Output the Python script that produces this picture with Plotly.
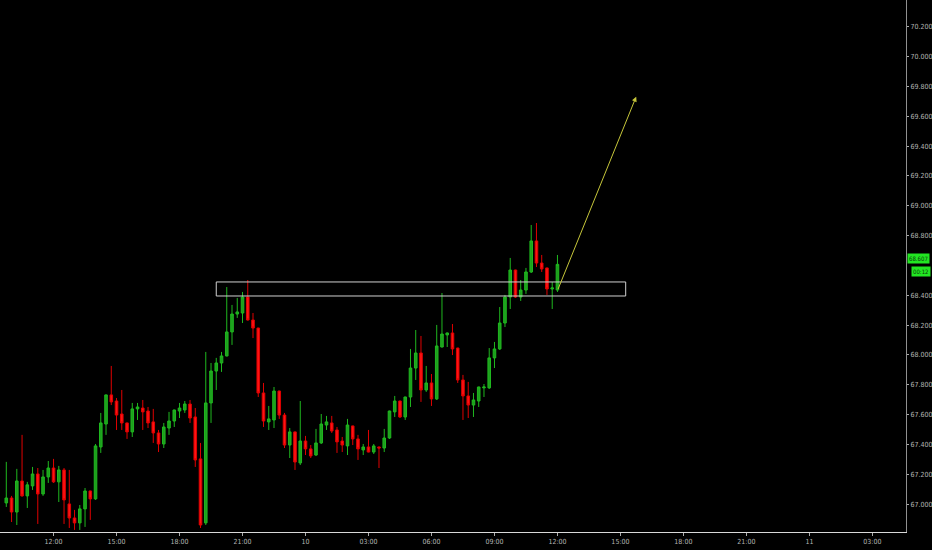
import pandas as pd
import plotly.graph_objects as go

# 15 minute candles, day 9 09:45 -> day 10 12:00
start_time = "2019-07-09 09:45"

opens = [67.008, 67.041, 66.947, 67.155, 67.055, 67.122, 67.202, 67.068, 67.182, 67.242,
         67.149, 67.229, 67.001, 66.907, 66.874, 66.968, 67.088, 67.035, 67.383, 67.537,
         67.732, 67.691, 67.604, 67.544, 67.484, 67.638, 67.644, 67.624, 67.551, 67.477,
         67.403, 67.510, 67.557, 67.624, 67.631, 67.671, 67.584, 67.303, 66.874, 67.678,
         67.892, 67.946, 67.993, 68.154, 68.274, 68.281, 68.388, 68.234, 68.180, 67.745,
         67.551, 67.564, 67.758, 67.597, 67.396, 67.484, 67.276, 67.423, 67.370, 67.329,
         67.410, 67.530, 67.544, 67.497, 67.423, 67.390, 67.524, 67.437, 67.363, 67.383,
         67.349, 67.383, 67.376, 67.443, 67.618, 67.691, 67.584, 67.718, 67.912, 68.013,
         67.765, 67.812, 67.705, 68.053, 68.134, 68.147, 68.046, 67.832, 67.725, 67.664,
         67.691, 67.779, 67.779, 67.980, 68.040, 68.214, 68.388, 68.569, 68.388, 68.435,
         68.556, 68.764, 68.616, 68.583, 68.442, 68.435]

highs = [67.283, 67.055, 67.236, 67.464, 67.149, 67.249, 67.242, 67.229, 67.289, 67.303,
         67.256, 67.242, 67.229, 66.961, 66.994, 67.108, 67.090, 67.403, 67.611, 67.734,
         67.926, 67.711, 67.765, 67.546, 67.678, 67.678, 67.698, 67.651, 67.638, 67.497,
         67.544, 67.618, 67.633, 67.678, 67.691, 67.698, 67.644, 67.410, 68.020, 67.946,
         67.980, 68.020, 68.455, 68.335, 68.382, 68.422, 68.502, 68.281, 68.182, 67.812,
         67.658, 67.785, 67.760, 67.611, 67.510, 67.486, 67.691, 67.457, 67.396, 67.504,
         67.604, 67.591, 67.591, 67.517, 67.450, 67.571, 67.526, 67.464, 67.403, 67.497,
         67.403, 67.385, 67.504, 67.626, 67.725, 67.693, 67.720, 68.040, 68.167, 68.127,
         67.926, 67.872, 68.201, 68.415, 68.150, 68.207, 68.048, 67.866, 67.819, 67.745,
         67.787, 67.805, 68.046, 68.087, 68.321, 68.402, 68.650, 68.571, 68.502, 68.583,
         68.871, 68.884, 68.670, 68.585, 68.489, 68.670]

lows = [66.981, 66.880, 66.860, 67.050, 66.974, 67.095, 66.867, 67.055, 67.142, 67.142,
        67.014, 66.867, 66.840, 66.827, 66.827, 66.847, 66.894, 67.028, 67.343, 67.464,
        67.664, 67.497, 67.497, 67.437, 67.450, 67.564, 67.497, 67.510, 67.410, 67.349,
        67.376, 67.464, 67.517, 67.577, 67.611, 67.544, 67.249, 66.840, 66.860, 67.544,
        67.765, 67.886, 67.990, 68.067, 68.248, 68.214, 68.230, 68.113, 67.718, 67.517,
        67.497, 67.510, 67.571, 67.376, 67.309, 67.229, 67.262, 67.329, 67.309, 67.323,
        67.403, 67.497, 67.477, 67.343, 67.349, 67.329, 67.396, 67.296, 67.329, 67.347,
        67.336, 67.242, 67.349, 67.437, 67.584, 67.577, 67.564, 67.651, 67.832, 67.685,
        67.752, 67.658, 67.698, 68.050, 68.053, 67.999, 67.812, 67.564, 67.577, 67.584,
        67.651, 67.718, 67.772, 67.912, 68.033, 68.187, 68.308, 68.382, 68.362, 68.409,
        68.549, 68.589, 68.556, 68.402, 68.308, 68.422]

closes = [67.041, 66.947, 67.155, 67.055, 67.129, 67.202, 67.068, 67.182, 67.242, 67.149,
          67.229, 67.028, 66.907, 66.874, 66.968, 67.088, 67.035, 67.390, 67.544, 67.732,
          67.685, 67.597, 67.544, 67.484, 67.638, 67.651, 67.618, 67.544, 67.477, 67.403,
          67.517, 67.557, 67.631, 67.644, 67.671, 67.577, 67.296, 66.860, 67.678, 67.892,
          67.946, 67.993, 68.154, 68.274, 68.288, 68.388, 68.234, 68.180, 67.745, 67.557,
          67.571, 67.758, 67.597, 67.396, 67.484, 67.282, 67.423, 67.370, 67.323, 67.410,
          67.537, 67.551, 67.490, 67.417, 67.396, 67.530, 67.437, 67.370, 67.383, 67.349,
          67.390, 67.376, 67.443, 67.624, 67.691, 67.584, 67.718, 67.912, 68.013, 67.765,
          67.812, 67.705, 68.060, 68.140, 68.147, 68.040, 67.832, 67.725, 67.664, 67.698,
          67.785, 67.785, 67.980, 68.040, 68.214, 68.388, 68.569, 68.388, 68.435, 68.556,
          68.764, 68.616, 68.576, 68.442, 68.449, 68.607]

# drawn zone and projection arrow
zone_times = ["2019-07-09 19:45", "2019-07-10 15:15"]
zone_prices = [68.395, 68.489]
arrow_start = ("2019-07-10 12:00", 68.431)
arrow_end = ("2019-07-10 15:45", 69.731)

# axis ticks (68.600 sits under the last price label, so it is left out)
x_tickvals = ["2019-07-09 12:00", "2019-07-09 15:00", "2019-07-09 18:00", "2019-07-09 21:00",
              "2019-07-10 00:00", "2019-07-10 03:00", "2019-07-10 06:00", "2019-07-10 09:00",
              "2019-07-10 12:00", "2019-07-10 15:00", "2019-07-10 18:00", "2019-07-10 21:00",
              "2019-07-11 00:00", "2019-07-11 03:00"]
x_ticktext = ["12:00", "15:00", "18:00", "21:00", "10", "03:00", "06:00", "09:00",
              "12:00", "15:00", "18:00", "21:00", "11", "03:00"]
y_tickvals = [67.0, 67.2, 67.4, 67.6, 67.8, 68.0, 68.2, 68.4, 68.8,
              69.0, 69.2, 69.4, 69.6, 69.8, 70.0, 70.2]

last_price = "68.607"
countdown = "00:12"

times = pd.date_range(start_time, periods=len(opens), freq="15min")

axis_font = "Liberation Sans Narrow, DejaVu Sans Condensed, Liberation Sans"

fig = go.Figure()

fig.add_trace(go.Candlestick(
    x=times, open=opens, high=highs, low=lows, close=closes,
    increasing=dict(line=dict(color="#1fb81f", width=1), fillcolor="#1e9e1e"),
    decreasing=dict(line=dict(color="#e00000", width=1), fillcolor="#ff1414"),
    showlegend=False,
))

# support / resistance box
fig.add_shape(type="rect", xref="x", yref="y",
              x0=zone_times[0], x1=zone_times[1], y0=zone_prices[0], y1=zone_prices[1],
              line=dict(color="#d0d0d0", width=1), fillcolor="rgba(0,0,0,0)")

# projection arrow
fig.add_annotation(x=arrow_end[0], y=arrow_end[1], ax=arrow_start[0], ay=arrow_start[1],
                   xref="x", yref="y", axref="x", ayref="y", text="",
                   showarrow=True, arrowhead=2, arrowsize=1, arrowwidth=1,
                   arrowcolor="#c6c63a")

# last price labels on the right scale
fig.add_annotation(x=1.0, y=float(last_price), xref="paper", yref="y", xanchor="left",
                   text=last_price, showarrow=False, bgcolor="#22e622",
                   font=dict(size=6, color="#0a3a0a", family=axis_font),
                   borderpad=1, xshift=1, yshift=6)
fig.add_annotation(x=1.0, y=float(last_price), xref="paper", yref="y", xanchor="left",
                   text=countdown, showarrow=False, bgcolor="#22e622",
                   font=dict(size=6, color="#0a3a0a", family=axis_font),
                   borderpad=1, xshift=5, yshift=-7)

fig.update_layout(
    width=932, height=550,
    margin=dict(l=0, r=22, t=0, b=18),
    paper_bgcolor="#000000", plot_bgcolor="#000000",
    font=dict(family=axis_font, size=7, color="#b4b4b4"),
    xaxis=dict(
        range=["2019-07-09 09:27", "2019-07-11 04:36"],
        rangeslider=dict(visible=False),
        tickvals=x_tickvals, ticktext=x_ticktext,
        showgrid=False, zeroline=False,
        showline=True, linecolor="#d8d8d8", linewidth=1,
        ticks="outside", ticklen=3, tickcolor="#aaaaaa",
        tickfont=dict(size=7, color="#b4b4b4"),
    ),
    yaxis=dict(
        range=[66.813, 70.379], side="right",
        tickvals=y_tickvals, tickformat=".3f",
        showgrid=False, zeroline=False,
        showline=True, linecolor="#909090", linewidth=1,
        ticks="outside", ticklen=2, tickcolor="#aaaaaa",
        tickfont=dict(size=7, color="#b4b4b4"),
    ),
)

fig.write_html("out.html", config={"displayModeBar": False},
               post_script="document.body.style.margin='0px';document.body.style.background='#000';")
